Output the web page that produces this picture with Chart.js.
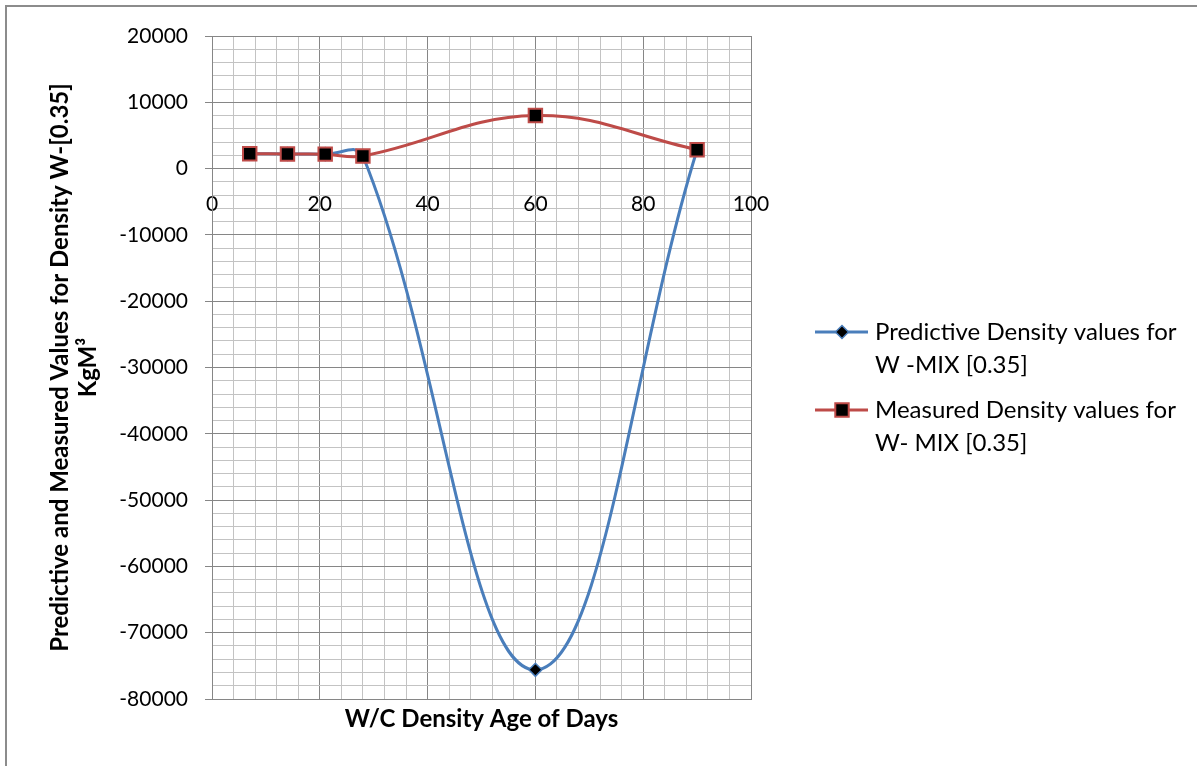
<!DOCTYPE html>
<html>
<head>
<meta charset="utf-8">
<script src="https://cdn.jsdelivr.net/npm/chart.js@4"></script>
<style>
  html, body { margin: 0; padding: 0; background: #fff; overflow: hidden; }
  #wrap { position: relative; width: 1197px; height: 766px; }
  #frame { position: absolute; left: 5px; top: 5px; width: 1300px; height: 800px; border-left: 2px solid #8c8c8c; border-top: 2px solid #8c8c8c; }
  canvas { position: absolute; left: 0; top: 0; }
</style>
</head>
<body>
<div id="wrap">
  <div id="frame"></div>
  <canvas id="chart" width="1197" height="766"></canvas>
</div>
<script>
const days = [7, 14, 21, 28, 60, 90];
const predictive = [2250, 2200, 2180, 1900, -75600, 2850];
const measured = [2250, 2200, 2180, 1900, 8000, 2850];
const seriesNames = [
    ["Predictive Density values for", "W -MIX [0.35]"],
    ["Measured Density values for", "W- MIX [0.35]"]
];
const yTitle = ["Predictive and Measured Values for Density W-[0.35]", "KgM\u00B3"];
const xTitle = "W/C Density Age of Days";

const FONT = "Lato, 'Noto Sans', sans-serif";
const MAJOR = "#868686";
const MINOR = "#c3c3c3";

function toPoints(values) {
    return days.map((d, i) => ({ x: d, y: values[i] }));
}

// legend drawn beside the plot, text wrapped over two lines like the original
const sideLegend = {
    id: "sideLegend",
    afterDraw(chart) {
        const ctx = chart.ctx;
        const rows = [332, 410];
        ctx.save();
        chart.data.datasets.forEach((ds, i) => {
            const y = rows[i];
            ctx.strokeStyle = ds.borderColor;
            ctx.lineWidth = 3;
            ctx.beginPath();
            ctx.moveTo(815, y);
            ctx.lineTo(868, y);
            ctx.stroke();
            ctx.fillStyle = ds.pointBackgroundColor;
            ctx.strokeStyle = ds.pointBorderColor;
            ctx.lineWidth = ds.pointBorderWidth;
            Chart.helpers.drawPoint(ctx, {
                pointStyle: ds.pointStyle,
                rotation: 0,
                radius: ds.pointRadius,
                borderWidth: ds.pointBorderWidth
            }, 842, y);
            ctx.fillStyle = "#000";
            ctx.font = "24px " + FONT;
            ctx.textBaseline = "middle";
            seriesNames[i].forEach((line, j) => {
                ctx.fillText(line, 875, y + j * 33);
            });
        });
        ctx.restore();
    }
};

new Chart(document.getElementById("chart"), {
    type: "line",
    data: {
        datasets: [{
            label: seriesNames[0].join(" "),
            data: toPoints(predictive),
            borderColor: "#4a7ebb",
            borderWidth: 3,
            pointStyle: "rectRot",
            pointRadius: 6.5,
            pointBackgroundColor: "#000",
            pointBorderColor: "#4a7ebb",
            pointBorderWidth: 1.5,
            tension: 0.4,
            order: 1
        }, {
            label: seriesNames[1].join(" "),
            data: toPoints(measured),
            borderColor: "#be4b48",
            borderWidth: 3,
            pointStyle: "rect",
            pointRadius: 9.5,
            pointBackgroundColor: "#000",
            pointBorderColor: "#be4b48",
            pointBorderWidth: 2,
            tension: 0.4,
            order: 0
        }]
    },
    options: {
        responsive: false,
        animation: false,
        events: [],
        layout: { padding: { left: 0, top: 36, right: 446, bottom: 0 } },
        plugins: {
            legend: { display: false },
            tooltip: { enabled: false }
        },
        scales: {
            x: {
                type: "linear",
                position: "bottom",
                min: 0,
                max: 100,
                ticks: { stepSize: 4, display: false },
                grid: {
                    color: c => (c.tick.value % 20 === 0 ? MAJOR : MINOR),
                    drawTicks: false
                },
                border: { color: MAJOR },
                title: {
                    display: true,
                    text: xTitle,
                    color: "#000",
                    font: { family: FONT, size: 24, weight: "bold", lineHeight: 1.2 },
                    padding: { top: 0, bottom: 32 }
                },
                afterFit: s => { s.height = 67; }
            },
            x2: {
                type: "linear",
                position: { y: 0 },
                min: 0,
                max: 100,
                ticks: {
                    stepSize: 20,
                    color: "#000",
                    padding: 15,
                    font: { family: FONT, size: 21 }
                },
                grid: { display: false },
                border: { display: false }
            },
            y: {
                type: "linear",
                min: -80000,
                max: 20000,
                ticks: {
                    stepSize: 2000,
                    autoSkip: false,
                    color: "#000",
                    padding: 17,
                    font: { family: FONT, size: 21 },
                    callback: v => (v % 10000 === 0 ? v : "")
                },
                grid: {
                    color: c => (c.tick.value % 10000 === 0 ? MAJOR : MINOR),
                    tickColor: c => (c.tick.value % 10000 === 0 ? MAJOR : "rgba(0,0,0,0)"),
                    tickLength: 7
                },
                border: { color: MAJOR },
                title: {
                    display: true,
                    text: yTitle,
                    color: "#000",
                    font: { family: FONT, size: 24, weight: "bold", lineHeight: 1.17 },
                    padding: { top: 46, bottom: 0 }
                },
                afterFit: s => { s.width = 212; }
            }
        }
    },
    plugins: [sideLegend]
});
</script>
</body>
</html>
